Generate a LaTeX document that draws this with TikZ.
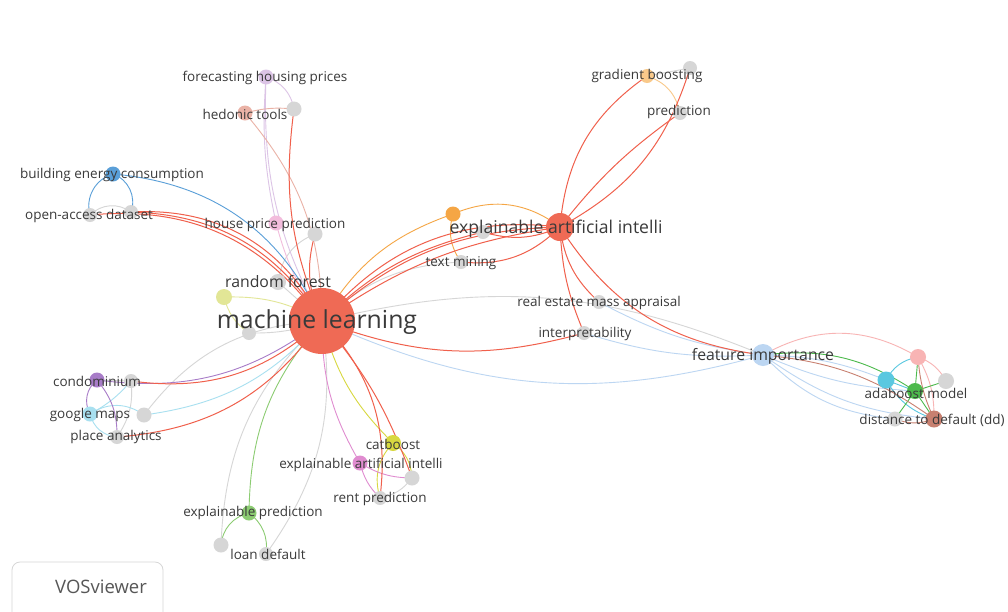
\documentclass[tikz,border=0pt]{standalone}
\usepackage{fontspec}
\setmainfont{Open Sans}
\definecolor{cred}{HTML}{EF6A55}
\definecolor{ered}{HTML}{F0604C}
\definecolor{corange}{HTML}{F5A645}
\definecolor{corangel}{HTML}{F9C98A}
\definecolor{cblue}{HTML}{5A9FD8}
\definecolor{cblue2}{HTML}{BCD6F2}
\definecolor{cpurple}{HTML}{A87CC8}
\definecolor{cpurplel}{HTML}{DCC4E6}
\definecolor{csalmon}{HTML}{EAB2A6}
\definecolor{cpink}{HTML}{F2BCDC}
\definecolor{cyel}{HTML}{E2E696}
\definecolor{ccat}{HTML}{D8D840}
\definecolor{cmag}{HTML}{E08CD0}
\definecolor{cgreenl}{HTML}{8CCC72}
\definecolor{cgreen}{HTML}{4CBA4C}
\definecolor{ccyan}{HTML}{5AC8E0}
\definecolor{cpinkl}{HTML}{F8B4B4}
\definecolor{cbrown}{HTML}{C88070}
\definecolor{ccyanl}{HTML}{A8E0F0}
\definecolor{cgray}{HTML}{D6D6D6}
\definecolor{ctext}{HTML}{3A3A3A}
\begin{document}
\begin{tikzpicture}[x=1pt,y=-1pt,
  nd/.style={circle,inner sep=0pt,minimum size=#1},
  lbl/.style={text=ctext,inner sep=0pt,font=\fontsize{13.5}{13.5}\selectfont},
  lblm/.style={text=ctext,inner sep=0pt,font=\fontsize{15.8}{15.8}\selectfont},
  lble/.style={text=ctext,inner sep=0pt,font=\fontsize{17.6}{17.6}\selectfont},
  lblb/.style={text=ctext,inner sep=0pt,font=\fontsize{24.8}{24.8}\selectfont},
  ed/.style={line width=0.9pt},
  edr/.style={line width=1pt,ered}
]
\useasboundingbox[fill=white] (0,0) rectangle (1008,611);
% coordinates
\coordinate (ml) at (322,321);
\coordinate (eai) at (560,227);
\coordinate (fi) at (763,355);
\coordinate (rf) at (278,282);
\coordinate (yel) at (224,297);
\coordinate (g1) at (249,333);
\coordinate (hpp) at (276,223);
\coordinate (hppg) at (315,234);
\coordinate (bec) at (113,174);
\coordinate (oad) at (90,215);
\coordinate (oadg) at (131,212);
\coordinate (fhp) at (266,77);
\coordinate (ht) at (245,113);
\coordinate (htg) at (294,109);
\coordinate (gb) at (647,76);
\coordinate (gbg) at (690,68);
\coordinate (pred) at (680,113);
\coordinate (orn) at (453,214);
\coordinate (og) at (483,232);
\coordinate (tm) at (461,262);
\coordinate (rema) at (599,302);
\coordinate (interp) at (584,333);
\coordinate (condo) at (97,380);
\coordinate (condog) at (131,381);
\coordinate (gm) at (90,414);
\coordinate (gmg) at (144,415);
\coordinate (pa) at (117,437);
\coordinate (cb) at (393,443);
\coordinate (seai) at (360,463);
\coordinate (seaig) at (412,478);
\coordinate (rp) at (380,498);
\coordinate (ep) at (249,513);
\coordinate (ld1) at (221,545);
\coordinate (ld) at (266,554);
\coordinate (ada) at (915,391);
\coordinate (adc) at (886,380);
\coordinate (adp) at (918,357);
\coordinate (adg) at (946,381);
\coordinate (dd) at (934,419);
\coordinate (ddg) at (895,419);

% ---- light edges
\draw[ed,cgray] (oad) to[bend left=40] (oadg);
\draw[ed,cgray] (rf) to[bend left=30] (hppg);
\draw[ed,cgray] (rf) to (ml);
\draw[ed,cgray] (g1) to[bend right=10] (ml);
\draw[ed,cgray] (gmg) to[bend left=25] (ml);
\draw[ed,cgray] (ld1) to[bend left=22] (ml);
\draw[ed,cgray] (ld) to[bend right=22] (ml);
\draw[ed,cgray] (ml) to[bend left=18] (fi);
\draw[ed,cgray] (tm) to[bend right=20] (ml);
\draw[ed,cgray] (gb) to (gbg);
\draw[ed,cgray] (seaig) to[bend left=20] (rp);
\draw[ed,cgray] (condo) to (condog);
\draw[ed,cgray] (condog) to[bend left=20] (pa);
\draw[ed,cblue2] (ml) to[bend right=20] (fi);
\draw[ed,cblue2] (rema) to[bend right=10] (fi);
\draw[ed,cblue2] (interp) to[bend right=10] (fi);
\draw[ed,cblue2] (fi) to[bend right=20] (ddg);
\draw[ed,cblue2] (fi) to[bend right=15] (dd);
\draw[ed,cblue2] (fi) to[bend right=10] (ada);
\draw[ed,cblue2] (fi) to[bend left=10] (adc);
\draw[ed,cpurplel] (fhp) to[bend right=15] (ml);
\draw[ed,cpurplel] (fhp) to[bend left=30] (htg);
\draw[ed,cpurplel] (fhp) to[bend right=8] (hpp);
\draw[ed,csalmon] (ht) to[bend left=20] (ml);
\draw[ed,csalmon] (ht) to[bend left=10] (htg);
\draw[ed,cpink] (hpp) to[bend right=10] (ml);
\draw[ed,cyel] (yel) to[bend left=15] (ml);
\draw[ed,cyel] (yel) to[bend right=20] (g1);
\draw[ed,ccyanl] (gm) to[bend left=35] (gmg);
\draw[ed,ccyanl] (gm) to[bend right=35] (pa);
\draw[ed,ccyanl] (gmg) to[bend right=20] (ml);
\draw[ed,ccyanl] (condog) to[bend left=10] (gm);
\draw[ed,cblue] (bec) to[bend right=45] (oad);
\draw[ed,cblue] (bec) to[bend left=45] (oadg);
\draw[ed,cblue] (bec) to[bend left=30] (ml);
\draw[ed,cpurple] (condo) to[bend right=40] (gm);
\draw[ed,cpurple] (condo) to[bend left=20] (pa);
\draw[ed,cpurple] (condo) to[bend right=22] (ml);
\draw[ed,cgreenl] (ep) to[bend left=20] (ml);
\draw[ed,cgreenl] (ep) to[bend right=35] (ld1);
\draw[ed,cgreenl] (ep) to[bend left=30] (ld);
\draw[ed,ccat] (cb) to[bend left=15] (ml);
\draw[ed,ccat] (cb) to[bend left=25] (seaig);
\draw[ed,ccat] (cb) to[bend right=30] (rp);
\draw[ed,cmag] (seai) to[bend left=15] (ml);
\draw[ed,cmag] (seai) to[bend right=15] (seaig);
\draw[ed,cmag] (seai) to[bend right=15] (rp);
\draw[ed,corange] (orn) to[bend right=20] (ml);
\draw[ed,corange] (orn) to[bend left=30] (eai);
\draw[ed,corange] (orn) to[bend right=25] (tm);
\draw[ed,corangel] (gb) to[bend left=30] (pred);
\draw[ed,cpinkl] (fi) to[bend left=30] (adp);
\draw[ed,cpinkl] (adp) to[bend left=20] (adg);
\draw[ed,cpinkl] (adp) to[bend left=15] (dd);
\draw[ed,ccyan] (adc) to[bend left=25] (adp);
\draw[ed,ccyan] (adc) to[bend right=20] (dd);
\draw[ed,ccyan] (adc) to (ada);
\draw[ed,cgreen] (fi) to[bend left=20] (ada);
\draw[ed,cgreen] (ada) to (adp);
\draw[ed,cgreen] (ada) to (adg);
\draw[ed,cgreen] (ada) to (ddg);
\draw[ed,cgreen] (ada) to (dd);
\draw[ed,cbrown] (fi) to[bend left=15] (dd);
\draw[ed,cbrown] (ddg) to[bend right=20] (dd);
\draw[ed,cbrown] (adp) to[bend right=10] (dd);
% ---- red edges
\draw[edr] (ml) to[bend left=28] (eai);
\draw[edr] (ml) to[bend left=20] (eai);
\draw[edr] (ml) to[bend left=13] (eai);
\draw[edr] (og) to[bend right=15] (ml);
\draw[edr] (tm) to[bend right=25] (eai);
\draw[edr] (og) to[bend right=20] (eai);
\draw[edr] (oadg) to[bend left=28] (ml);
\draw[edr] (oadg) to[bend left=33] (ml);
\draw[edr] (oad) to[bend left=30] (ml);
\draw[edr] (htg) to[bend right=15] (ml);
\draw[edr] (hppg) to[bend right=20] (ml);
\draw[edr] (condog) to[bend right=25] (ml);
\draw[edr] (pa) to[bend right=25] (ml);
\draw[edr] (ml) to[bend left=10] (seaig);
\draw[edr] (ml) to[bend left=25] (rp);
\draw[edr] (ml) to[bend right=18] (interp);
\draw[edr] (eai) to[bend left=25] (gb);
\draw[edr] (eai) to[bend left=8] (pred);
\draw[edr] (eai) to[bend right=22] (gbg);
\draw[edr] (eai) to[bend right=25] (fi);
\draw[edr] (eai) to[bend right=10] (interp);
\draw[edr] (eai) to[bend right=20] (rema);

% ---- nodes
\node[nd=66pt,fill=cred] (nml) at (ml) {};
\node[nd=28pt,fill=cred] (neai) at (eai) {};
\node[nd=22pt,fill=cblue2] (nfi) at (fi) {};
\node[nd=16pt,fill=cgray] (nrf) at (rf) {};
\node[nd=16pt,fill=cyel] (nyel) at (yel) {};
\node[nd=14pt,fill=cgray] (ng1) at (g1) {};
\node[nd=15pt,fill=cpink] (nhpp) at (hpp) {};
\node[nd=15pt,fill=cgray] (nhppg) at (hppg) {};
\node[nd=15pt,fill=cblue] (nbec) at (bec) {};
\node[nd=14pt,fill=cgray] (noad) at (oad) {};
\node[nd=14pt,fill=cgray] (noadg) at (oadg) {};
\node[nd=15pt,fill=cpurplel] (nfhp) at (fhp) {};
\node[nd=15pt,fill=csalmon] (nht) at (ht) {};
\node[nd=15pt,fill=cgray] (nhtg) at (htg) {};
\node[nd=14pt,fill=corangel] (ngb) at (gb) {};
\node[nd=14pt,fill=cgray] (ngbg) at (gbg) {};
\node[nd=14pt,fill=cgray] (npred) at (pred) {};
\node[nd=15pt,fill=corange] (norn) at (orn) {};
\node[nd=14pt,fill=cgray] (nog) at (og) {};
\node[nd=14pt,fill=cgray] (ntm) at (tm) {};
\node[nd=14pt,fill=cgray] (nrema) at (rema) {};
\node[nd=14pt,fill=cgray] (ninterp) at (interp) {};
\node[nd=15pt,fill=cpurple] (ncondo) at (condo) {};
\node[nd=14pt,fill=cgray] (ncondog) at (condog) {};
\node[nd=15pt,fill=ccyanl] (ngm) at (gm) {};
\node[nd=15pt,fill=cgray] (ngmg) at (gmg) {};
\node[nd=14pt,fill=cgray] (npa) at (pa) {};
\node[nd=16pt,fill=ccat] (ncb) at (cb) {};
\node[nd=15pt,fill=cmag] (nseai) at (seai) {};
\node[nd=15pt,fill=cgray] (nseaig) at (seaig) {};
\node[nd=14pt,fill=cgray] (nrp) at (rp) {};
\node[nd=15pt,fill=cgreenl] (nep) at (ep) {};
\node[nd=15pt,fill=cgray] (nld1) at (ld1) {};
\node[nd=14pt,fill=cgray] (nld) at (ld) {};
\node[nd=16pt,fill=cpinkl] (nadp) at (adp) {};
\node[nd=16pt,fill=cgray] (nadg) at (adg) {};
\node[nd=17pt,fill=ccyan] (nadc) at (adc) {};
\node[nd=16pt,fill=cgreen] (nada) at (ada) {};
\node[nd=15pt,fill=cgray] (nddg) at (ddg) {};
\node[nd=17pt,fill=cbrown] (ndd) at (dd) {};

% ---- labels
\node[lblb] (tml) at (317,322) {machine learning};
\node[lble] (teai) at (556,229) {explainable artificial intelli};
\node[lblm] (tfi) at (763,356) {feature importance};
\node[lblm] (trf) at (278,282) {random forest};
\node[lbl] (thpp) at (275,225) {house price prediction};
\node[lbl] (tbec) at (112,175) {building energy consumption};
\node[lbl] (toad) at (89,216) {open-access dataset};
\node[lbl] (tfhp) at (265,78) {forecasting housing prices};
\node[lbl] (tht) at (245,114) {hedonic tools};
\node[lbl] (tgb) at (647,76) {gradient boosting};
\node[lbl] (tpred) at (679,112) {prediction};
\node[lbl] (ttm) at (461,263) {text mining};
\node[lbl] (trema) at (599,303) {real estate mass appraisal};
\node[lbl] (tinterp) at (585,334) {interpretability};
\node[lbl] (tcondo) at (97,381) {condominium};
\node[lbl] (tgm) at (90,415) {google maps};
\node[lbl] (tpa) at (116,437) {place analytics};
\node[lbl] (tcb) at (393,444) {catboost};
\node[lbl] (tseai) at (361,465) {explainable artificial intelli};
\node[lbl] (trp) at (380,499) {rent prediction};
\node[lbl] (tep) at (253,513) {explainable prediction};
\node[lbl] (tld) at (268,554) {loan default};
\node[lbl] (tada) at (916,393) {adaboost model};
\node[lbl] (tdd) at (932,420) {distance to default (dd)};

% ---- VOSviewer box
\draw[cgray,line width=0.8pt,rounded corners=8pt] (12,625) -- (12,562) -- (163,562) -- (163,625);
\node[text=ctext!85,inner sep=0pt,font=\fontsize{18.5}{18.5}\selectfont] (vos) at (101,587) {VOSviewer};
\end{tikzpicture}
\end{document}
